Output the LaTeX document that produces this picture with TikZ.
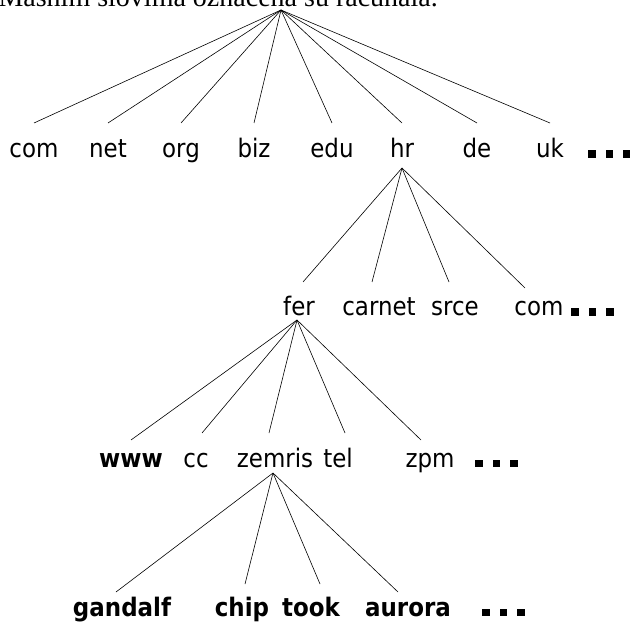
\documentclass[tikz,border=0pt]{standalone}
\usepackage{fontspec}
\setmainfont{Liberation Serif}
\newfontfamily\labfont[FakeStretch=0.9]{DejaVu Sans}
\newcommand\sqdots{\rule{7.5pt}{7.5pt}\hspace{10pt}\rule{7.5pt}{7.5pt}\hspace{10pt}\rule{7.5pt}{7.5pt}}
\begin{document}
\begin{tikzpicture}[x=1pt,y=-1pt,
  lbl/.style={font=\labfont\fontsize{25.5}{25.5}\selectfont, anchor=base, inner sep=0pt},
  host/.style={font=\labfont\bfseries\fontsize{25.5}{25.5}\selectfont, anchor=base, inner sep=0pt},
  edge/.style={line width=0.6pt},
  moredots/.style={anchor=base west, inner sep=0pt}]
\useasboundingbox (0,0) rectangle (630,623);
\clip (0,0) rectangle (630,623);

% caption line above the tree (cut by the page top)
\node[anchor=base east, inner sep=0pt, font=\fontsize{28}{28}\selectfont] (caption) at (438,7)
  {Masnim slovima označena su računala.};
\coordinate (root) at (281,10);

% top-level domains
\node[lbl] (tcom) at (34,158) {com};
\node[lbl] (tnet) at (108,158) {net};
\node[lbl] (torg) at (181,158) {org};
\node[lbl] (tbiz) at (254,158) {biz};
\node[lbl] (tedu) at (332,158) {edu};
\node[lbl] (thr)  at (402,158) {hr};
\node[lbl] (tde)  at (477,158) {de};
\node[lbl] (tuk)  at (550,158) {uk};
\node[moredots] (more1) at (588,158) {\sqdots};

% .hr subdomains
\node[lbl] (fer)    at (299,316) {fer};
\node[lbl] (carnet) at (379,316) {carnet};
\node[lbl] (srce)   at (455,316) {srce};
\node[lbl] (hrcom)  at (539,316) {com};
\node[moredots] (more2) at (571,316) {\sqdots};

% fer.hr
\node[host] (www)    at (131,467) {www};
\node[lbl]  (cc)     at (196,467) {cc};
\node[lbl]  (zemris) at (275,467) {zemris};
\node[lbl]  (tel)    at (338,467) {tel};
\node[lbl]  (zpm)    at (430,467) {zpm};
\node[moredots] (more3) at (475,467) {\sqdots};

% zemris.fer.hr hosts
\node[host] (gandalf) at (122,616) {gandalf};
\node[host] (chip)    at (242,616) {chip};
\node[host] (took)    at (311,616) {took};
\node[host] (aurora)  at (408,616) {aurora};
\node[moredots] (more4) at (482,616) {\sqdots};

% connectors
\foreach \n in {tcom,tnet,torg,tbiz,tedu,thr,tde,tuk}
  \draw[edge] (root) -- ([shift={(0,-35)}]\n.base);

\coordinate (hrs) at ([shift={(0,10)}]thr.base);
\draw[edge] (hrs) -- ([shift={(4,-34)}]fer.base);
\draw[edge] (hrs) -- ([shift={(-7,-34)}]carnet.base);
\draw[edge] (hrs) -- ([shift={(-6,-34)}]srce.base);
\draw[edge] (hrs) -- ([shift={(-14,-28)}]hrcom.base);

\coordinate (fers) at ([shift={(-2,4)}]fer.base);
\draw[edge] (fers) -- ([shift={(0,-27)}]www.base);
\draw[edge] (fers) -- ([shift={(6,-34)}]cc.base);
\draw[edge] (fers) -- ([shift={(-6,-34)}]zemris.base);
\draw[edge] (fers) -- ([shift={(7,-34)}]tel.base);
\draw[edge] (fers) -- ([shift={(-9,-27)}]zpm.base);

\coordinate (zems) at ([shift={(-2,6)}]zemris.base);
\draw[edge] (zems) -- ([shift={(-6,-24)}]gandalf.base);
\draw[edge] (zems) -- ([shift={(3,-32)}]chip.base);
\draw[edge] (zems) -- ([shift={(9,-32)}]took.base);
\draw[edge] (zems) -- ([shift={(-10,-24)}]aurora.base);
\end{tikzpicture}
\end{document}
